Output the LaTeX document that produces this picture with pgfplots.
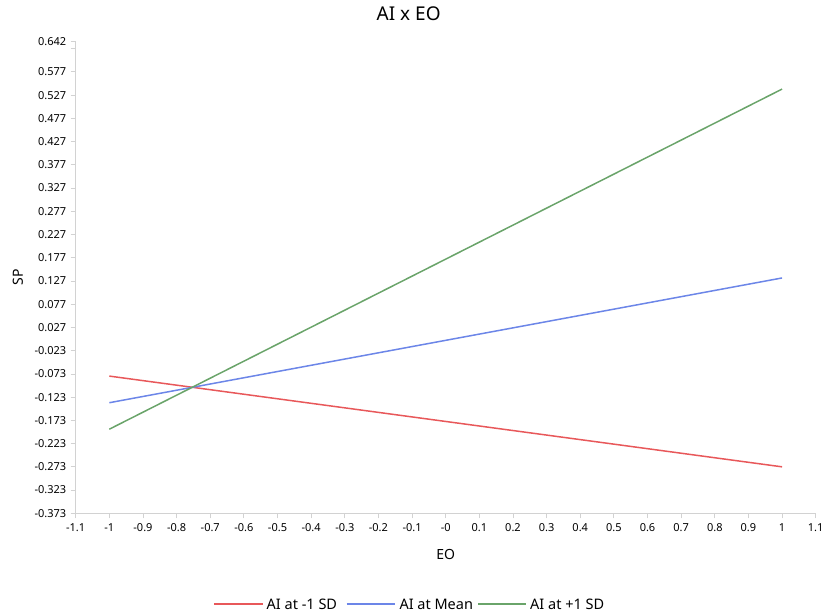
\documentclass[border=0pt]{standalone}
\usepackage{pgfplots}
\pgfplotsset{compat=1.18}
\usepackage{fontspec}
\setmainfont{Noto Sans}
\definecolor{cred}{RGB}{232,88,90}
\definecolor{cblue}{RGB}{108,134,232}
\definecolor{cgreen}{RGB}{106,164,106}
\definecolor{axgray}{RGB}{210,210,210}
\newcommand{\legfont}{\fontsize{14.5}{16}\selectfont}
\begin{document}
\begin{tikzpicture}[x=1pt,y=1pt]
\begin{axis}[
  at={(75.7pt,101.7pt)}, anchor=south west,
  scale only axis, width=740pt, height=471.6pt,
  xmin=-1.1, xmax=1.1, ymin=-0.373, ymax=0.642,
  axis x line*=bottom, axis y line*=left,
  axis line style={axgray, line width=0.8pt},
  tick style={axgray, line width=0.8pt},
  tick align=outside, major tick length=5pt,
  xtick={-1.1,-1,-0.9,-0.8,-0.7,-0.6,-0.5,-0.4,-0.3,-0.2,-0.1,0,0.1,0.2,0.3,0.4,0.5,0.6,0.7,0.8,0.9,1,1.1},
  xticklabels={-1.1,-1,-0.9,-0.8,-0.7,-0.6,-0.5,-0.4,-0.3,-0.2,-0.1,-0,0.1,0.2,0.3,0.4,0.5,0.6,0.7,0.8,0.9,1,1.1},
  ytick={-0.373,-0.323,-0.273,-0.223,-0.173,-0.123,-0.073,-0.023,0.027,0.077,0.127,0.177,0.227,0.277,0.327,0.377,0.427,0.477,0.527,0.577,0.627,0.642},
  yticklabels={-0.373,-0.323,-0.273,-0.223,-0.173,-0.123,-0.073,-0.023,0.027,0.077,0.127,0.177,0.227,0.277,0.327,0.377,0.427,0.477,0.527,0.577,,0.642},
  ticklabel style={font=\fontsize{11}{13}\selectfont, text=black},
  xticklabel style={yshift=-2pt},
  yticklabel style={xshift=-1pt},
  xlabel={EO}, ylabel={SP},
  xlabel style={font=\fontsize{14}{16}\selectfont, at={(0.5,-0.088)}, anchor=center},
  ylabel style={font=\fontsize{14}{16}\selectfont, at={(-0.078,0.5)}, anchor=center},
  title={AI x EO},
  title style={font=\fontsize{19}{22}\selectfont, at={(0.450,1.047)}, anchor=center},
]
\addplot[cred, line width=1.5pt] coordinates {(-1,-0.0777) (1,-0.273)};
\addplot[cblue, line width=1.5pt] coordinates {(-1,-0.135) (1,0.1335)};
\addplot[cgreen, line width=1.5pt] coordinates {(-1,-0.192) (1,0.540)};
\end{axis}
% legend
\draw[cred, line width=1.5pt] (214,11) -- (262.5,11);
\node[anchor=base west, inner sep=0pt, font=\legfont] at (266.5,5.8) {AI at -1 SD};
\draw[cblue, line width=1.5pt] (346.7,11) -- (395,11);
\node[anchor=base west, inner sep=0pt, font=\legfont] at (399.3,5.8) {AI at Mean};
\draw[cgreen, line width=1.5pt] (478,11) -- (526,11);
\node[anchor=base west, inner sep=0pt, font=\legfont] at (530,5.8) {AI at +1 SD};
\pgfresetboundingbox
\useasboundingbox (0,0) rectangle (822,615);
\end{tikzpicture}
\end{document}
